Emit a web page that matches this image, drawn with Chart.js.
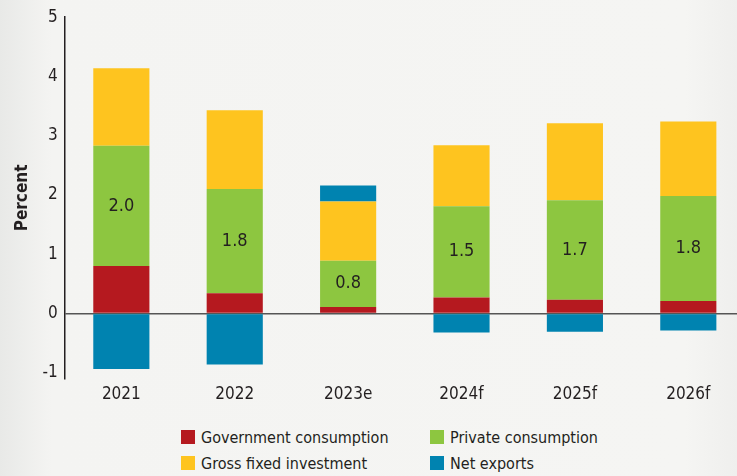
<!DOCTYPE html>
<html>
<head>
<meta charset="utf-8">
<script src="https://cdn.jsdelivr.net/npm/chart.js@4"></script>
<style>
  html, body { margin: 0; padding: 0; }
  body {
    width: 737px; height: 476px; overflow: hidden; position: relative;
    background: linear-gradient(to right, #e8e9e7 0%, #f4f4f2 7%, #f5f5f3 93%, #efefed 100%);
    font-family: "Liberation Sans Narrow", "DejaVu Sans Condensed", sans-serif;
  }
  #wrap { position: absolute; left: 0; top: 0; width: 745px; height: 411px; }
  #legend {
    position: absolute; left: 181px; top: 426px;
    display: grid; grid-template-columns: 249px 200px; row-gap: 4px;
    font-size: 16px; color: #231f20;
  }
  .item { display: flex; align-items: center; height: 22px; }
  .box { width: 14px; height: 14px; margin-right: 6px; }
</style>
</head>
<body>
<div id="wrap"><canvas id="chart"></canvas></div>
<div id="legend"></div>
<script>
const years = ["2021", "2022", "2023e", "2024f", "2025f", "2026f"];
const government = [0.80, 0.34, 0.11, 0.27, 0.23, 0.21];
const privateCons = [2.03, 1.76, 0.78, 1.54, 1.68, 1.77];
const investment = [1.31, 1.33, 1.00, 1.03, 1.30, 1.26];
const netExports = [-0.94, -0.86, 0.27, -0.32, -0.31, -0.29];
const yTicks = [-1, 0, 1, 2, 3, 4, 5];

const seriesNames = ["Government consumption", "Private consumption", "Gross fixed investment", "Net exports"];
const colors = ["#b5191f", "#8dc640", "#fec41f", "#0083b0"];
const fontFamily = '"Liberation Sans Narrow", "DejaVu Sans Condensed", sans-serif';

// write the private consumption value in the middle of the green block
const greenLabels = {
  id: "greenLabels",
  afterDatasetsDraw(c) {
    const ctx = c.ctx;
    const meta = c.getDatasetMeta(1);
    ctx.save();
    ctx.font = "18px " + fontFamily;
    ctx.fillStyle = "#231f20";
    ctx.textAlign = "center";
    ctx.textBaseline = "middle";
    meta.data.forEach((bar, i) => {
      const mid = (bar.y + bar.base) / 2;
      ctx.fillText(privateCons[i].toFixed(1), bar.x, mid);
    });
    ctx.restore();
  }
};

const chart = new Chart(document.getElementById("chart"), {
  type: "bar",
  data: {
    labels: years,
    datasets: [
      { label: seriesNames[0], data: government, backgroundColor: colors[0] },
      { label: seriesNames[1], data: privateCons, backgroundColor: colors[1] },
      { label: seriesNames[2], data: investment, backgroundColor: colors[2] },
      { label: seriesNames[3], data: netExports, backgroundColor: colors[3] }
    ]
  },
  options: {
    responsive: true,
    maintainAspectRatio: false,
    animation: false,
    datasets: { bar: { categoryPercentage: 1, barPercentage: 0.495 } },
    layout: { padding: { top: 12, left: 10, right: 0, bottom: 0 } },
    plugins: { legend: { display: false }, tooltip: { enabled: false } },
    scales: {
      x: {
        stacked: true,
        grid: { display: false, drawTicks: false },
        border: { display: false },
        ticks: { color: "#231f20", padding: 6, font: { family: fontFamily, size: 17 } }
      },
      y: {
        stacked: true,
        min: -1.1, max: 5,
        afterBuildTicks: axis => { axis.ticks = yTicks.map(v => ({ value: v })); },
        grid: {
          drawTicks: false,
          color: ctx => ctx.tick && ctx.tick.value === 0 ? "#555555" : "transparent",
          lineWidth: 1.5
        },
        border: { display: true, color: "#231f20", width: 1.5 },
        ticks: { color: "#231f20", padding: 7, font: { family: fontFamily, size: 17 } },
        title: {
          display: true, text: "Percent", color: "#231f20", padding: { top: 2, bottom: 3 },
          font: { family: fontFamily, size: 17, weight: "bold" }
        }
      }
    }
  },
  plugins: [greenLabels]
});

// legend in two columns, order as in the reference
const legend = document.getElementById("legend");
[0, 1, 2, 3].forEach(i => {
  const div = document.createElement("div");
  div.className = "item";
  div.innerHTML = `<span class="box" style="background:${colors[i]}"></span>${seriesNames[i]}`;
  legend.appendChild(div);
});
</script>
</body>
</html>
